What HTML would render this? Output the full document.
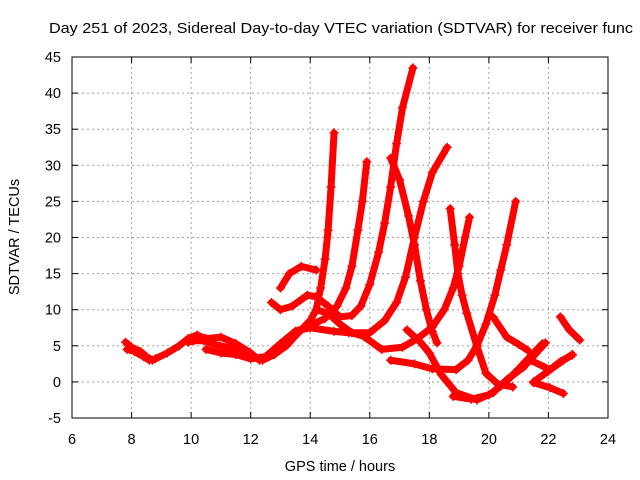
<!DOCTYPE html>
<html><head><meta charset="utf-8"><style>
html,body{margin:0;padding:0;background:#fff;overflow:hidden;width:640px;height:480px}
svg{display:block;font-family:"Liberation Sans",sans-serif}
</style></head><body>
<svg id="chart" width="640" height="480" viewBox="0 0 640 480" xmlns="http://www.w3.org/2000/svg">
<rect width="640" height="480" fill="#fff"/>
<text x="49" y="33" font-size="14.5" fill="#000" textLength="584" lengthAdjust="spacingAndGlyphs">Day 251 of 2023, Sidereal Day-to-day VTEC variation (SDTVAR) for receiver func</text>
<g id="grid"></g>
<g id="marks"></g>
<rect x="72" y="57" width="536" height="361" fill="none" stroke="#000" stroke-width="1"/>
<g id="ticks"></g>
<text x="340" y="471" font-size="14.5" text-anchor="middle">GPS time / hours</text>
<text transform="translate(19,237) rotate(-90)" font-size="14.5" text-anchor="middle">SDTVAR / TECUs</text>
</svg>
<script>
const xTicks=[6,8,10,12,14,16,18,20,22,24];
const yTicks=[-5,0,5,10,15,20,25,30,35,40,45];
const trackP=[[7.8,5.5],[8.0,4.8],[8.3,4.2],[8.5,3.5],[8.7,3]];
const trackP2=[[7.85,4.5],[8.1,4.2],[8.4,3.5],[8.6,3]];
const trackQ=[[8.8,3.2],[9.2,4],[9.6,5],[9.9,6],[10.2,6.5],[10.5,6],[11.0,6.2],[11.5,5.3],[12,4],[12.3,3]];
const trackR=[[9.9,5.5],[10.3,5.8],[10.8,5.2],[11.2,4.8],[11.6,4.2],[12,3.5],[12.4,3],[12.8,3.8],[13.2,5],[13.6,6.8],[14.0,8.5],[14.2,10],[14.35,13],[14.5,17],[14.6,21],[14.7,27],[14.8,34.5]];
const trackS=[[10.5,4.5],[11,4],[11.5,3.8],[12,3.2],[12.5,3.5],[13,5.3],[13.5,7],[14,7.8],[14.5,8.8],[14.9,10.5],[15.2,13],[15.4,16],[15.6,21],[15.75,25],[15.9,30.5]];
const trackT=[[12.7,11],[13.0,10],[13.4,10.5],[13.9,12],[14.2,11.8],[14.6,10.5],[15.0,9],[15.4,9.2],[15.7,10.5],[16.0,13.5],[16.3,18],[16.5,22],[16.7,27],[16.9,33],[17.1,38],[17.45,43.5]];
const trackU=[[13.0,13],[13.3,15],[13.7,16],[14.2,15.5]];
const trackV=[[12.8,4],[13.5,7],[14,7.5],[14.8,7],[15.3,6.8],[16,6.8],[16.5,8.5],[16.9,11],[17.2,14.5],[17.5,20],[17.8,25],[18.1,29],[18.6,32.5]];
const trackW=[[14.2,10],[14.6,9.5],[15,8],[15.4,6.8],[15.8,6.3],[16.4,4.5],[17.1,4.8],[17.6,6],[18.1,7.6],[18.5,10],[18.8,13],[19.0,16],[19.2,20],[19.35,22.8]];
const trackX=[[16.7,31],[17.0,28],[17.3,23],[17.5,19],[17.7,14],[17.9,10],[18.1,7],[18.26,5.4]];
const trackH=[[16.7,3],[17.5,2.5],[18.1,1.8],[18.9,1.7],[19.3,3],[19.6,5],[19.9,8],[20.2,12],[20.4,15.5],[20.6,19],[20.9,25]];
const trackI=[[18.7,24],[18.85,19],[18.96,15],[19.1,12],[19.26,9.5],[19.6,4.9],[19.9,1.2],[20.3,-0.3],[20.8,-0.7]];
const trackJ=[[17.25,7.2],[17.7,5.5],[18.0,4],[18.4,1],[18.9,-1.5],[19.6,-2.5],[20.14,-1.5],[20.6,0.3],[21.15,2],[21.9,5.4]];
const trackL=[[20.14,9],[20.6,6.2],[21.0,5.2],[21.3,4.4]];
const trackM=[[18.8,-2],[19.4,-2.4],[20,-1.8],[20.5,-0.3],[21.0,1.8],[21.5,4],[21.8,5.3]];
const trackN1=[[21.4,3],[22.05,1.7],[22.4,2.8],[22.8,3.7]];
const trackN2=[[21.5,-0.1],[22.05,-0.8],[22.5,-1.6]];
const trackN3=[[21.5,0],[22.0,1.5],[22.5,3],[22.8,3.8]];
const trackO=[[22.4,9],[22.7,7.2],[23.05,5.8]];
const tracks=[trackP,trackP2,trackQ,trackR,trackS,trackT,trackU,trackV,trackW,trackX,trackH,trackI,trackJ,trackL,trackM,trackN1,trackN2,trackN3,trackO];
const NS="http://www.w3.org/2000/svg";
const X0=72,X1=608,Y0=418,Y1=57,xmin=6,xmax=24,ymin=-5,ymax=45;
function sx(v){return X0+(v-xmin)/(xmax-xmin)*(X1-X0);}
function sy(v){return Y0-(v-ymin)/(ymax-ymin)*(Y0-Y1);}
function mk(t,a){const e=document.createElementNS(NS,t);for(const k in a)e.setAttribute(k,a[k]);return e;}
const grid=document.getElementById('grid'),ticks=document.getElementById('ticks'),marks=document.getElementById('marks');
xTicks.forEach(v=>{const x=sx(v);
 if(v>xmin&&v<xmax){const g=mk('line',{x1:x,x2:x,y1:Y1,y2:Y0,stroke:'#a0a0a0','stroke-dasharray':'2,3'});
 
 grid.appendChild(g);}
 ticks.appendChild(mk('line',{x1:x,x2:x,y1:Y0,y2:Y0-6,stroke:'#000'}));
 ticks.appendChild(mk('line',{x1:x,x2:x,y1:Y1,y2:Y1+6,stroke:'#000'}));
 const l=mk('text',{x:x,y:444,'font-size':'14.5','text-anchor':'middle'});l.textContent=v;
 
 ticks.appendChild(l);});
yTicks.forEach(v=>{const y=sy(v);
 if(v>ymin&&v<ymax){const g=mk('line',{x1:X0,x2:X1,y1:y,y2:y,stroke:'#a0a0a0','stroke-dasharray':'2,3'});
 
 grid.appendChild(g);}
 ticks.appendChild(mk('line',{x1:X0,x2:X0+6,y1:y,y2:y,stroke:'#000'}));
 ticks.appendChild(mk('line',{x1:X1,x2:X1-6,y1:y,y2:y,stroke:'#000'}));
 const l=mk('text',{x:61,y:y+5,'font-size':'14.5','text-anchor':'end'});l.textContent=v;
 
 ticks.appendChild(l);});
tracks.forEach((tr,i)=>{
 const g=mk('g',{});
 
 
 const pts=tr.map(p=>sx(p[0])+','+sy(p[1])).join(' ');
 g.appendChild(mk('polyline',{points:pts,fill:'none',stroke:'#f00','stroke-width':7,'stroke-linejoin':'round','stroke-linecap':'round'}));
 tr.forEach(p=>{const x=sx(p[0]),y=sy(p[1]);
  g.appendChild(mk('path',{d:`M${x-4.5},${y}H${x+4.5}M${x},${y-4.5}V${y+4.5}`,stroke:'#f00','stroke-width':1.5}));});
 marks.appendChild(g);});
</script>
</body></html>
